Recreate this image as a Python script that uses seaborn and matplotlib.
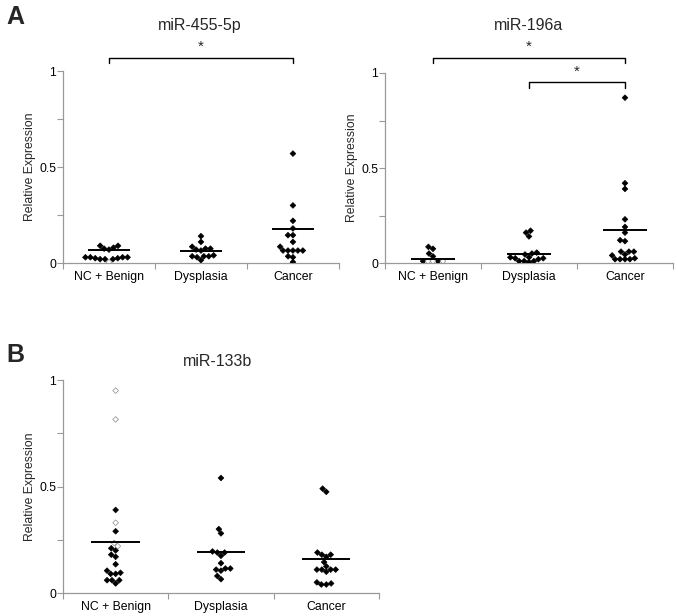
import pandas as pd
import seaborn as sns
import matplotlib.pyplot as plt

# Группы
groups = ['NC + Benign', 'Dysplasia', 'Cancer']

# miR-455-5p (панель A, слева)
mir455_nc = [0.09, 0.09, 0.08, 0.075, 0.07, 0.03, 0.03, 0.03, 0.03, 0.025, 0.025, 0.02, 0.02, 0.02]
mir455_nc_open = [0.005]
mir455_dys = [0.14, 0.11, 0.085, 0.075, 0.075, 0.07, 0.065, 0.04, 0.035, 0.035, 0.035, 0.03, 0.015]
mir455_can = [0.57, 0.30, 0.22, 0.18, 0.145, 0.145, 0.11, 0.085, 0.065, 0.065, 0.065, 0.065, 0.065, 0.035, 0.03, 0.005]
mir455_lines = [0.066, 0.063, 0.177]

# miR-196a (панель A, справа)
mir196_nc = [0.085, 0.075, 0.05, 0.035, 0.01, 0.01]
mir196_nc_open = [0.01, 0.01, 0.01]
mir196_dys = [0.17, 0.16, 0.14, 0.055, 0.05, 0.045, 0.03, 0.03, 0.025, 0.025, 0.02, 0.01, 0.01, 0.01, 0.005]
mir196_can = [0.87, 0.42, 0.39, 0.23, 0.19, 0.16, 0.12, 0.115, 0.06, 0.06, 0.06, 0.045, 0.04, 0.025, 0.02, 0.02, 0.02, 0.02]
mir196_lines = [0.019, 0.047, 0.175]

# miR-133b (панель B)
mir133_nc = [0.39, 0.29, 0.21, 0.20, 0.18, 0.17, 0.135, 0.105, 0.095, 0.09, 0.09, 0.06, 0.06, 0.06, 0.045]
mir133_nc_open = [0.95, 0.815, 0.33, 0.235, 0.22]
mir133_dys = [0.54, 0.30, 0.28, 0.195, 0.19, 0.19, 0.175, 0.14, 0.115, 0.115, 0.11, 0.105, 0.08, 0.065]
mir133_can = [0.49, 0.475, 0.19, 0.18, 0.18, 0.17, 0.145, 0.125, 0.11, 0.11, 0.11, 0.11, 0.10, 0.05, 0.045, 0.04, 0.04]
mir133_lines = [0.24, 0.194, 0.158]


def make_df(nc, nc_open, dys, can):
    rows = []
    for v in nc:
        rows.append((groups[0], v, False))
    for v in nc_open:
        rows.append((groups[0], v, True))
    for v in dys:
        rows.append((groups[1], v, False))
    for v in can:
        rows.append((groups[2], v, False))
    return pd.DataFrame(rows, columns=['group', 'value', 'open'])


sns.set_style('white')
plt.rcParams['font.family'] = ['Liberation Sans', 'DejaVu Sans']

fig = plt.figure(figsize=(6.78, 6.16), dpi=100)
ax1 = fig.add_axes([0.0929, 0.573, 0.407, 0.3117])
ax2 = fig.add_axes([0.5678, 0.573, 0.4248, 0.3085])
ax3 = fig.add_axes([0.0929, 0.0373, 0.466, 0.3458])

panels = [
    (ax1, make_df(mir455_nc, mir455_nc_open, mir455_dys, mir455_can), mir455_lines, 'miR-455-5p'),
    (ax2, make_df(mir196_nc, mir196_nc_open, mir196_dys, mir196_can), mir196_lines, 'miR-196a'),
    (ax3, make_df(mir133_nc, mir133_nc_open, mir133_dys, mir133_can), mir133_lines, 'miR-133b'),
]

for ax, df, lines, title in panels:
    sns.swarmplot(data=df, x='group', y='value', hue='open', order=groups,
                  palette={False: 'black', True: 'white'}, marker='D', size=2.9,
                  linewidth=0.5, edgecolor='black', legend=False, ax=ax)
    # полые маркеры - серый контур
    for coll in ax.collections:
        fc = coll.get_facecolors()
        if len(fc) == 0:
            continue
        ec = ['#8a8a8a' if f[0] > 0.5 else 'black' for f in fc]
        coll.set_edgecolors(ec)
    # линии среднего
    for i, m in enumerate(lines):
        ax.hlines(m, i - 0.23, i + 0.23, color='black', lw=1.4, zorder=5)

    ax.set_xlim(-0.5, 2.5)
    ax.set_ylim(0, 1)
    ax.set_yticks([0, 0.5, 1])
    ax.set_yticklabels(['0', '0.5', '1'])
    ax.set_yticks([0.25, 0.75], minor=True)
    ax.set_xticks([0, 1, 2])
    ax.set_xticklabels(groups)
    ax.set_xticks([-0.5, 0.5, 1.5, 2.5], minor=True)
    ax.tick_params(axis='x', which='major', length=0, labelsize=8.8, pad=6, colors='black')
    ax.tick_params(axis='x', which='minor', length=4, width=0.8, color='#999999', direction='out', bottom=True)
    ax.tick_params(axis='y', which='both', length=4, width=0.8, color='#999999', direction='out',
                   labelsize=8.8, labelcolor='black', left=True, pad=1)
    ax.set_xlabel('')
    ax.set_ylabel('Relative Expression', fontsize=8.8, labelpad=2)
    for side in ['top', 'right']:
        ax.spines[side].set_visible(False)
    for side in ['left', 'bottom']:
        ax.spines[side].set_color('#999999')
        ax.spines[side].set_linewidth(0.9)
    ax.text(0.5, 1.0, title, transform=ax.transAxes, ha='center', va='bottom', fontsize=11.5)

# позиции заголовков
ax1.texts[-1].set_position((0.496, 1.20))
ax2.texts[-1].set_position((0.497, 1.21))
ax3.texts[-1].set_position((0.49, 1.05))


def bracket(ax, x0, x1, y, drop):
    ax.plot([x0, x0, x1, x1], [y - drop, y, y, y - drop], color='black', lw=1.0, clip_on=False)
    ax.text((x0 + x1) / 2, y + 0.02, '*', ha='center', va='bottom', fontsize=11)


bracket(ax1, 0, 2, 1.068, 0.025)
bracket(ax2, 0, 2, 1.079, 0.025)
bracket(ax2, 1, 2, 0.95, 0.03)

fig.text(0.01, 0.992, 'A', fontsize=18, fontweight='bold', va='top')
fig.text(0.01, 0.443, 'B', fontsize=18, fontweight='bold', va='top')

plt.savefig('out.png', dpi=100)
